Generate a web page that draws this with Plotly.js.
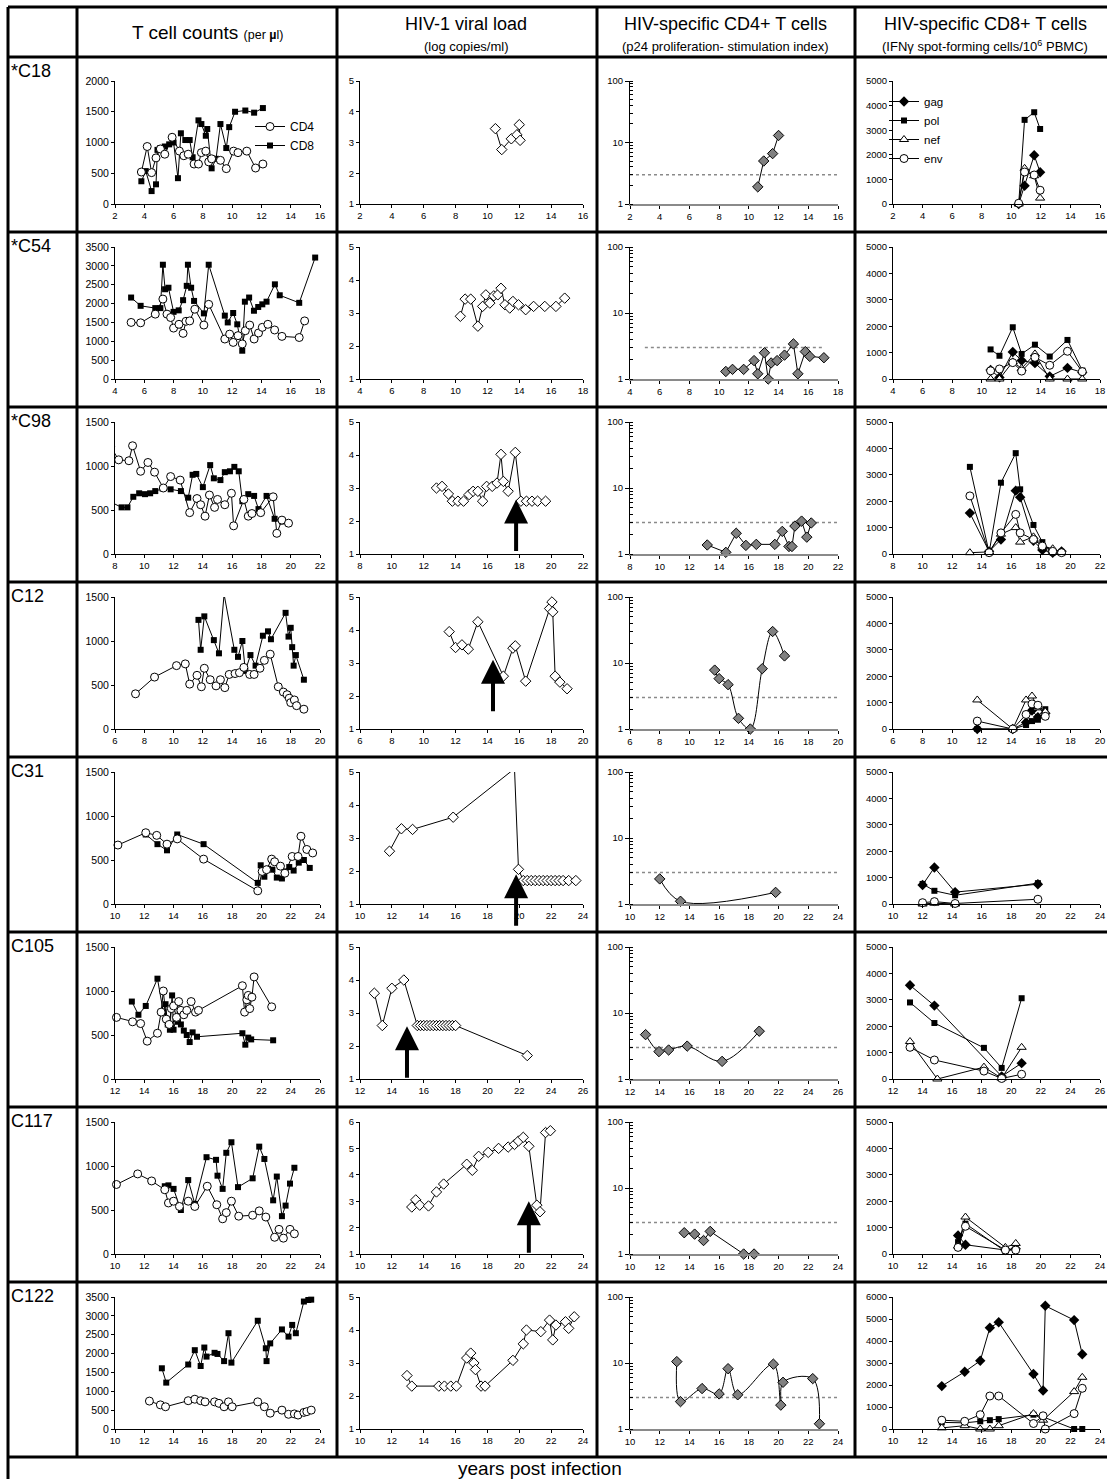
<!DOCTYPE html>
<html><head><meta charset="utf-8">
<script src="https://cdn.plot.ly/plotly-3.0.1.min.js"></script>
<style>html,body{margin:0;padding:0;background:#fff;}#chart{width:1107px;height:1479px;}</style>
</head><body><div id="chart"></div>
<script>
// ---------------- DATA ----------------
const patientIds = ['*C18','*C54','*C98','C12','C31','C105','C117','C122'];
const columnTitles = ['T cell counts','HIV-1 viral load','HIV-specific CD4+ T cells','HIV-specific CD8+ T cells'];
const columnSubtitles = ['(per µl)','(log copies/ml)','(p24 proliferation- stimulation index)','(IFNγ spot-forming cells/10<sup>6</sup> PBMC)'];
const footerText = 'years post infection';

const xRanges = [[2,16],[4,18],[8,22],[6,20],[10,24],[12,26],[10,24],[10,24]];
const tcellMax = [2000,3500,1500,1500,1500,1500,1500,3500];
const viralMax = [5,5,5,5,5,5,6,5];
const ifnMax = [5000,5000,5000,5000,5000,5000,5000,6000];
const siThreshold = 3;
const siCutStart = [2,5,8,6,10,12,10,10];
const siCutEnd = [16,17.1,22,20,24,26,24,24];

// C18
const C18_cd4_t = [3.8,4.2,4.5,4.8,5.1,5.4,5.9,6.4,6.7,7.0,7.4,7.7,7.9,8.2,8.4,8.6,9.2,9.6,10.1,10.4,11.0,11.6,12.1];
const C18_cd4 = [520,935,510,750,895,810,1085,860,785,810,650,650,835,860,685,735,710,575,860,835,860,585,650];
const C18_cd8_t = [3.8,4.1,4.5,4.8,4.9,5.1,5.4,5.7,6.0,6.3,6.5,6.8,7.1,7.3,7.7,7.9,8.2,8.3,8.5,8.6,8.9,9.2,9.6,9.8,10.2,10.9,11.5,12.1];
const C18_cd8 = [370,535,210,320,880,910,935,970,1000,420,1150,1040,1040,760,1360,1300,1110,1220,735,580,735,1300,910,1250,1500,1520,1485,1560];
const C18_vl_t = [10.5,10.9,11.5,11.85,12.0,12.05];
const C18_vl = [3.45,2.77,3.12,3.25,3.58,3.07];
const C18_si_t = [10.6,11.0,11.6,12.0];
const C18_si = [1.9,5.0,6.6,13];
const C18_ifn_t = [10.5,10.9,11.55,11.95];
const C18_gag = [0,740,1980,1290];
const C18_pol = [0,3420,3730,3050];
const C18_nef = [0,1450,1150,240];
const C18_env = [30,1300,1180,560];

// C54
const C54_cd4_t = [5.1,5.75,6.75,7.27,7.55,7.8,8.0,8.37,8.65,8.85,9.1,9.45,10.07,10.4,11.5,11.83,12.07,12.4,12.69,12.9,13.2,13.5,13.8,14.06,14.44,14.9,15.4,16.58,16.95];
const C54_cd4 = [1500,1490,1720,2120,1720,1630,1350,1450,1210,1530,1540,1850,1430,1980,1060,1190,970,1150,930,1280,1430,1060,1220,1370,1450,1300,1130,1100,1540];
const C54_cd8_t = [5.1,5.75,6.75,7.1,7.27,7.42,7.65,8.0,8.35,8.65,8.9,8.98,9.2,9.4,10.07,10.4,11.5,11.7,12.07,12.35,12.69,12.87,13.16,13.49,13.78,14.06,14.35,14.92,15.25,16.58,17.67];
const C54_cd8 = [2160,1940,1880,1880,3030,2380,2420,1780,1820,2090,2470,3030,2420,2070,1740,3030,1680,1500,1750,1450,750,2050,2160,1810,1910,1980,2050,2510,2220,2020,3220];
const C54_vl_t = [10.3,10.6,10.95,11.4,11.7,11.9,12.15,12.4,12.65,12.85,13.1,13.4,13.6,13.95,14.4,14.9,15.6,16.3,16.85];
const C54_vl = [2.9,3.42,3.42,2.6,3.2,3.55,3.3,3.52,3.55,3.75,3.25,3.15,3.35,3.25,3.1,3.2,3.2,3.2,3.45];
const C54_si_t = [10.45,10.9,11.65,12.35,12.6,13.05,13.3,13.5,13.9,14.4,15.0,15.3,15.8,16.1,17.05];
const C54_si = [1.3,1.4,1.4,1.9,1.2,2.5,1.0,1.75,1.9,2.3,3.4,1.2,2.6,2.2,2.1];
const C54_ifn_t = [10.6,11.2,12.1,12.7,13.6,14.6,15.8,16.8];
const C54_gag = [340,60,1020,700,600,100,420,250];
const C54_pol = [1120,880,1960,950,1300,850,1480,320];
const C54_nef = [0,0,650,400,950,0,0,0];
const C54_env = [310,380,620,300,820,520,1050,280];

// C98
const C98_cd4_t = [7.7,8.25,8.95,9.2,9.75,10.25,10.7,11.3,11.8,12.45,13.1,13.6,13.85,14.15,14.45,14.8,15.0,15.5,15.95,16.1,16.8,17.1,17.35,17.95,18.8,19.05,19.4,19.85];
const C98_cd4 = [1220,1070,1060,1230,940,1040,930,750,880,840,470,630,560,430,670,530,620,560,690,320,620,430,460,470,650,235,385,350];
const C98_cd8_t = [7.6,8.45,8.85,9.25,9.65,10.05,10.4,10.75,11.25,11.8,12.5,13.0,13.3,13.55,14.0,14.5,14.75,15.2,15.5,15.85,16.15,16.45,16.7,17.1,17.5,17.8,18.35,18.9,19.4,19.85];
const C98_cd8 = [600,530,530,650,690,680,690,715,745,735,715,640,900,910,760,1010,860,840,930,940,990,940,600,680,660,510,660,400,370,350];
const C98_vl_t = [12.8,13.15,13.55,13.8,14.15,14.5,14.85,15.1,15.4,15.7,15.95,16.3,16.6,16.85,17.0,17.3,17.75,18.1,18.45,18.8,19.15,19.65];
const C98_vl = [3.0,3.05,2.82,2.6,2.6,2.6,2.8,2.9,2.9,2.6,3.05,3.05,3.15,4.02,3.2,2.9,4.08,2.6,2.6,2.6,2.6,2.6];
const C98_si_t = [13.2,14.45,15.15,15.8,16.5,17.75,18.25,18.7,18.9,19.1,19.55,19.9,20.2];
const C98_si = [1.37,1.06,2.06,1.35,1.4,1.4,2.2,1.3,1.3,2.65,3.15,1.8,2.95];
const C98_ifn_t = [13.2,14.5,15.3,16.3,16.6,17.5,18.1,18.8,19.4];
const C98_gag = [1550,100,550,2400,2150,500,150,50,100];
const C98_pol = [3300,50,2700,3820,2450,1100,450,50,80];
const C98_nef = [50,80,750,1000,450,650,300,200,50];
const C98_env = [2200,50,800,1500,800,550,300,100,50];

// C12
const C12_cd4_t = [7.4,8.7,10.2,10.8,11.1,11.6,11.9,12.1,12.5,12.9,13.2,13.5,13.8,14.2,14.5,14.8,15.2,15.5,15.9,16.2,16.6,17.15,17.5,17.75,17.9,18.0,18.25,18.4,18.9];
const C12_cd4 = [400,590,720,740,510,610,480,690,560,490,560,470,620,630,640,700,620,620,690,780,850,480,420,390,350,300,330,265,225];
const C12_cd8_t = [11.7,11.85,12.1,12.75,13.1,13.45,14.15,14.4,14.7,14.9,15.25,15.6,16.1,16.45,16.65,17.65,17.85,18.0,18.1,18.2,18.35,18.9];
const C12_cd8 = [1240,900,1280,1010,860,1530,900,820,1000,660,840,720,1060,1110,1020,1320,1050,1150,930,720,840,560];
const C12_vl_t = [11.6,12.0,12.4,12.8,13.4,15.0,15.6,15.75,16.4,17.9,18.05,18.1,18.25,18.55,19.0];
const C12_vl = [3.95,3.47,3.55,3.42,4.25,2.6,3.45,3.52,2.45,4.65,4.85,4.55,2.6,2.42,2.22];
const C12_si_t = [11.7,12.0,12.6,13.3,14.1,14.9,15.6,16.4];
const C12_si = [7.8,5.8,4.7,1.45,1.0,8.2,30,12.8];
const C12_ifn_t = [11.7,14.1,15.0,15.4,15.8,16.3];
const C12_gag = [0,0,250,700,450,600];
const C12_pol = [0,0,150,300,350,750];
const C12_nef = [1100,0,1100,1250,800,650];
const C12_env = [300,0,550,950,900,480];

// C31
const C31_cd4_t = [10.2,12.1,12.85,13.55,14.25,16.05,19.75,20.05,20.35,20.7,20.9,21.3,21.6,22.1,22.5,22.7,23.1,23.5];
const C31_cd4 = [670,810,780,680,740,510,150,370,390,510,480,430,350,540,540,770,620,580];
const C31_cd8_t = [12.1,12.9,13.55,14.25,16.05,19.75,19.95,20.2,20.45,20.75,21.05,21.4,21.65,21.9,22.2,22.55,22.9,23.3];
const C31_cd8 = [790,680,610,790,680,240,440,310,400,390,300,290,370,420,380,470,500,410];
const C31_vl_t = [11.85,12.6,13.3,15.85,19.7,19.95,20.25,20.5,20.75,21.0,21.25,21.5,21.75,22.0,22.25,22.5,22.75,23.1,23.55];
const C31_vl = [2.6,3.28,3.26,3.63,5.1,2.05,1.71,1.71,1.71,1.71,1.71,1.71,1.71,1.71,1.71,1.71,1.71,1.71,1.71];
const C31_si_t = [12.0,13.4,19.8];
const C31_si = [2.4,1.1,1.5];
const C31_ifn_t = [12.0,12.8,14.2,19.8];
const C31_gag = [720,1380,450,750];
const C31_pol = [760,500,330,790];
const C31_nef_t = [12.0,12.8,14.2];
const C31_nef = [0,30,0];
const C31_env = [50,90,20,180];

// C105
const C105_cd4_t = [12.1,13.2,13.75,14.2,14.9,15.15,15.3,15.5,15.7,15.85,16.0,16.2,16.35,16.5,16.7,16.9,17.2,17.5,17.7,20.7,20.85,21.0,21.1,21.2,21.35,21.5,22.7];
const C105_cd4 = [700,650,630,430,520,760,1000,680,620,800,830,700,880,780,730,780,880,760,780,1060,760,900,950,800,930,1160,820];
const C105_cd8_t = [13.15,13.6,14.1,14.9,15.3,15.45,15.6,15.75,15.9,16.0,16.15,16.3,16.5,16.7,16.9,17.1,17.3,17.6,20.7,20.9,21.1,21.3,22.8];
const C105_cd8 = [880,730,830,1140,760,850,620,560,950,560,680,650,620,550,500,420,530,480,520,390,470,450,440];
const C105_vl_t = [12.9,13.4,14.0,14.75,15.6,15.8,16.0,16.2,16.4,16.6,16.8,17.0,17.2,17.4,17.6,17.8,18.0,22.5];
const C105_vl = [3.6,2.62,3.75,4.0,2.62,2.62,2.62,2.62,2.62,2.62,2.62,2.62,2.62,2.62,2.62,2.62,2.62,1.71];
const C105_si_t = [13.05,13.95,14.6,15.85,18.2,20.7];
const C105_si = [4.7,2.6,2.75,3.15,1.85,5.3];
const C105_gag_t = [13.15,14.8,19.35,20.7];
const C105_gag = [3550,2780,100,600];
const C105_pol_t = [13.15,14.8,18.15,19.35,20.7];
const C105_pol = [2900,2120,1180,420,3060];
const C105_nef_t = [13.15,15.0,18.15,19.35,20.7];
const C105_nef = [1420,0,450,30,1200];
const C105_env_t = [13.15,14.8,18.15,19.35,20.7];
const C105_env = [1200,720,300,20,180];

// C117
const C117_cd4_t = [10.1,11.55,12.5,13.4,13.65,14.0,14.4,15.0,15.45,16.3,16.95,17.35,17.6,17.95,18.45,19.4,19.85,20.3,20.9,21.2,21.5,21.95,22.25];
const C117_cd4 = [790,910,830,730,580,600,540,600,540,770,560,400,470,600,430,440,490,420,190,280,180,280,230];
const C117_cd8_t = [13.4,13.65,14.0,14.5,15.0,15.45,16.25,16.9,17.0,17.35,17.6,17.95,18.4,19.4,19.85,20.2,20.8,21.05,21.4,21.65,21.95,22.25];
const C117_cd8 = [770,780,740,500,840,570,1100,1070,890,740,1150,1270,760,860,1220,1080,610,880,430,550,800,980];
const C117_vl_t = [13.25,13.5,13.75,14.3,14.8,15.25,16.7,17.05,17.45,18.05,18.7,19.3,19.7,19.95,20.25,20.6,21.1,21.3,21.65,21.95];
const C117_vl = [2.78,3.05,2.85,2.82,3.35,3.65,4.4,4.17,4.7,4.85,5.0,5.05,5.15,5.28,5.42,5.08,2.85,2.6,5.6,5.67];
const C117_si_t = [13.65,14.35,14.95,15.4,17.65,18.35];
const C117_si = [2.1,2.0,1.6,2.2,1.0,1.0];
const C117_ifn_t = [14.4,14.9,17.6,18.3];
const C117_gag = [700,350,150,200];
const C117_pol = [450,1150,100,250];
const C117_nef = [300,1400,250,400];
const C117_env = [250,1050,150,150];

// C122
const C122_cd4_t = [12.35,13.1,13.45,15.0,15.45,15.85,16.15,16.8,17.1,17.45,17.75,18.0,19.75,20.2,20.6,21.4,21.85,22.25,22.5,22.9,23.1,23.4];
const C122_cd4 = [740,640,590,750,790,750,720,720,680,590,720,590,720,590,420,500,390,400,370,440,460,500];
const C122_cd8_t = [13.2,13.5,15.0,15.45,15.85,16.1,16.25,16.8,17.0,17.45,17.75,17.95,19.75,20.3,20.35,20.6,21.4,21.85,22.1,22.35,22.9,23.2,23.4];
const C122_cd8 = [1610,1230,1710,2090,1670,2160,1920,2020,1990,1800,2540,1760,2870,2140,1800,2270,2640,2450,2760,2540,3380,3420,3430];
const C122_vl_t = [12.95,13.25,14.95,15.3,15.7,16.05,16.7,16.95,17.15,17.25,17.6,17.85,19.6,20.25,20.45,21.35,21.9,22.1,22.3,22.9,23.1,23.45];
const C122_vl = [2.62,2.3,2.3,2.3,2.3,2.3,3.15,3.3,3.0,2.8,2.3,2.3,3.08,3.58,4.0,3.95,4.3,3.7,4.15,4.25,4.05,4.4];
const C122_si_t = [13.15,13.4,14.85,16.0,16.6,17.25,19.65,20.15,20.3,22.3,22.75];
const C122_si = [10.5,2.6,4.1,3.4,8.2,3.3,9.6,2.3,5.1,5.8,1.2];
const C122_gag_t = [13.3,14.85,15.9,16.55,17.15,19.5,20.15,20.3,22.25,22.8];
const C122_gag = [1950,2600,3100,4600,4850,2500,1750,5600,4950,3400];
const C122_pol_t = [13.3,14.85,15.9,16.55,17.15,19.5,20.15,22.25,22.8];
const C122_pol = [300,280,350,400,450,650,550,0,0];
const C122_nef_t = [13.3,14.85,15.9,16.55,17.15,19.5,20.15,22.25,22.8];
const C122_nef = [50,150,0,0,150,700,400,1700,2350];
const C122_env_t = [13.3,14.85,15.9,16.55,17.15,19.5,20.15,20.3,22.25,22.8];
const C122_env = [400,350,650,1500,1500,250,600,0,700,1850];

// treatment arrows (viral load panels)
const arrowRows = [2,3,4,5,6];
const arrowYears = [17.8,14.35,19.8,14.95,20.6];
const arrowTipLoad = [2.65,3.1,1.9,2.6,3.0];

// ---------------- BUILD ----------------
const rows = [
  {cd4t:C18_cd4_t,cd4:C18_cd4,cd8t:C18_cd8_t,cd8:C18_cd8,vlt:C18_vl_t,vl:C18_vl,sit:C18_si_t,si:C18_si,
   gagt:C18_ifn_t,gag:C18_gag,polt:C18_ifn_t,pol:C18_pol,neft:C18_ifn_t,nef:C18_nef,envt:C18_ifn_t,env:C18_env},
  {cd4t:C54_cd4_t,cd4:C54_cd4,cd8t:C54_cd8_t,cd8:C54_cd8,vlt:C54_vl_t,vl:C54_vl,sit:C54_si_t,si:C54_si,
   gagt:C54_ifn_t,gag:C54_gag,polt:C54_ifn_t,pol:C54_pol,neft:C54_ifn_t,nef:C54_nef,envt:C54_ifn_t,env:C54_env},
  {cd4t:C98_cd4_t,cd4:C98_cd4,cd8t:C98_cd8_t,cd8:C98_cd8,vlt:C98_vl_t,vl:C98_vl,sit:C98_si_t,si:C98_si,
   gagt:C98_ifn_t,gag:C98_gag,polt:C98_ifn_t,pol:C98_pol,neft:C98_ifn_t,nef:C98_nef,envt:C98_ifn_t,env:C98_env},
  {cd4t:C12_cd4_t,cd4:C12_cd4,cd8t:C12_cd8_t,cd8:C12_cd8,vlt:C12_vl_t,vl:C12_vl,sit:C12_si_t,si:C12_si,
   gagt:C12_ifn_t,gag:C12_gag,polt:C12_ifn_t,pol:C12_pol,neft:C12_ifn_t,nef:C12_nef,envt:C12_ifn_t,env:C12_env},
  {cd4t:C31_cd4_t,cd4:C31_cd4,cd8t:C31_cd8_t,cd8:C31_cd8,vlt:C31_vl_t,vl:C31_vl,sit:C31_si_t,si:C31_si,
   gagt:C31_ifn_t,gag:C31_gag,polt:C31_ifn_t,pol:C31_pol,neft:C31_nef_t,nef:C31_nef,envt:C31_ifn_t,env:C31_env},
  {cd4t:C105_cd4_t,cd4:C105_cd4,cd8t:C105_cd8_t,cd8:C105_cd8,vlt:C105_vl_t,vl:C105_vl,sit:C105_si_t,si:C105_si,
   gagt:C105_gag_t,gag:C105_gag,polt:C105_pol_t,pol:C105_pol,neft:C105_nef_t,nef:C105_nef,envt:C105_env_t,env:C105_env},
  {cd4t:C117_cd4_t,cd4:C117_cd4,cd8t:C117_cd8_t,cd8:C117_cd8,vlt:C117_vl_t,vl:C117_vl,sit:C117_si_t,si:C117_si,
   gagt:C117_ifn_t,gag:C117_gag,polt:C117_ifn_t,pol:C117_pol,neft:C117_ifn_t,nef:C117_nef,envt:C117_ifn_t,env:C117_env},
  {cd4t:C122_cd4_t,cd4:C122_cd4,cd8t:C122_cd8_t,cd8:C122_cd8,vlt:C122_vl_t,vl:C122_vl,sit:C122_si_t,si:C122_si,
   gagt:C122_gag_t,gag:C122_gag,polt:C122_pol_t,pol:C122_pol,neft:C122_nef_t,nef:C122_nef,envt:C122_env_t,env:C122_env}
];
const smoothSI = [false,false,false,true,true,true,false,true];

const FONT = '"Liberation Sans", Arial, Helvetica, sans-serif';
const W = 1107, H = 1479;
const colPx = [[115,320],[360,583],[630,838],[893,1100]];
const rowTop = r => 57 + 175*r;
const yDom = r => { const T = rowTop(r); const top = T + (r===0?24:15); const bot = T + 147; return [1-bot/H, 1-top/H]; };
const px = v => v/W, py = v => 1 - v/H;

const LINE = {color:'#000', width:1};
const mk = {
  cd4: {symbol:'circle', size:8, color:'#fff', line:{color:'#000', width:1}},
  cd8: {symbol:'square', size:6, color:'#000', line:{color:'#000', width:0}},
  vl:  {symbol:'diamond', size:8, color:'#fff', line:{color:'#000', width:1}},
  si:  {symbol:'diamond', size:8, color:'#808080', line:{color:'#000', width:1}},
  gag: {symbol:'diamond', size:8, color:'#000', line:{color:'#000', width:0}},
  pol: {symbol:'square', size:6, color:'#000', line:{color:'#000', width:0}},
  nef: {symbol:'triangle-up', size:8, color:'#fff', line:{color:'#000', width:1}},
  env: {symbol:'circle', size:8, color:'#fff', line:{color:'#000', width:1}}
};

const traces = [];
const layout = {
  width: W, height: H, margin:{l:0,r:0,t:0,b:0},
  paper_bgcolor:'#fff', plot_bgcolor:'rgba(0,0,0,0)',
  font:{family:FONT, size:9, color:'#000'},
  showlegend:true,
  legend:{x:px(250), y:py(112), xanchor:'left', yanchor:'top', bgcolor:'rgba(0,0,0,0)', borderwidth:0,
          font:{family:FONT, size:12, color:'#000'}, tracegroupgap:0, itemwidth:30},
  legend2:{x:px(884), y:py(87), xanchor:'left', yanchor:'top', bgcolor:'rgba(0,0,0,0)', borderwidth:0,
          font:{family:FONT, size:11.5, color:'#000'}, tracegroupgap:0, itemwidth:30},
  shapes:[], annotations:[]
};

function axName(k, a){ return a + 'axis' + (k===1?'':k); }
function ref(k, a){ return a + (k===1?'':k); }

for (let r=0; r<8; r++){
  const d = rows[r];
  for (let c=0; c<4; c++){
    const k = r*4 + c + 1;
    const xa = {
      domain:[px(colPx[c][0]), px(colPx[c][1])], range:xRanges[r], anchor:ref(k,'y'),
      dtick:2, tick0:0, ticks:'outside', ticklen:3, tickwidth:1, tickcolor:'#000',
      showline:true, linecolor:(c===2?'#8a8a8a':'#000'), linewidth:(c===2?2:1),
      showgrid:false, zeroline:false, tickfont:{family:FONT, size:9.5, color:'#000'}, fixedrange:true
    };
    const ya = {
      domain:yDom(r), anchor:ref(k,'x'), ticks:'outside', ticklen:3, tickwidth:1, tickcolor:'#000',
      showline:true, linecolor:'#000', linewidth:1, showgrid:false, zeroline:false,
      tickfont:{family:FONT, size:(c===0?10.5:9.5), color:'#000'}, fixedrange:true
    };
    if (c===0){ ya.range=[0,tcellMax[r]]; ya.dtick=500; }
    if (c===1){ ya.range=[1,viralMax[r]]; ya.dtick=1; }
    if (c===2){ ya.type='log'; ya.range=[0,2]; ya.dtick=1; ya.ticklen=4;
                ya.minor={ticks:'inside', ticklen:3, tickcolor:'#000', tickwidth:1, dtick:'D1', showgrid:false}; }
    if (c===3){ ya.range=[0,ifnMax[r]]; ya.dtick=1000; }
    layout[axName(k,'x')] = xa;
    layout[axName(k,'y')] = ya;

    const base = {type:'scatter', mode:'lines+markers', xaxis:ref(k,'x'), yaxis:ref(k,'y'), line:LINE,
                  cliponaxis:(r===2 && c===0), showlegend:false, hoverinfo:'skip'};
    if (c===0){
      traces.push(Object.assign({}, base, {x:d.cd8t, y:d.cd8, marker:mk.cd8, name:'CD8',
        showlegend:r===0, legend:'legend', legendrank:2}));
      traces.push(Object.assign({}, base, {x:d.cd4t, y:d.cd4, marker:mk.cd4, name:'CD4',
        showlegend:r===0, legend:'legend', legendrank:1}));
    } else if (c===1){
      traces.push(Object.assign({}, base, {x:d.vlt, y:d.vl, marker:mk.vl, name:'viral load'}));
    } else if (c===2){
      traces.push(Object.assign({}, base, {mode:'lines', x:[siCutStart[r], siCutEnd[r]], y:[siThreshold, siThreshold],
        line:{color:'#8a8a8a', width:1.5, dash:'dot'}, name:'cutoff'}));
      traces.push(Object.assign({}, base, {x:d.sit, y:d.si, marker:mk.si, name:'SI',
        line:{color:'#000', width:1, shape:(smoothSI[r]?'spline':'linear'), smoothing:1}}));
    } else {
      const sers = [['gag',d.gagt,d.gag],['pol',d.polt,d.pol],['nef',d.neft,d.nef],['env',d.envt,d.env]];
      sers.forEach(([nm,xt,yv],i) => {
        traces.push(Object.assign({}, base, {x:xt, y:yv, marker:mk[nm], name:nm,
          showlegend:r===0, legend:'legend2', legendrank:i+1}));
      });
    }
  }
  // row label
  layout.annotations.push({xref:'paper', yref:'paper', x:px(9), y:py(rowTop(r)+14), xanchor:'left', yanchor:'middle',
    text:patientIds[r], showarrow:false, font:{family:FONT, size:18, color:'#000'}});
}

// arrows
arrowRows.forEach((r,i) => {
  const k = r*4 + 2;
  layout.annotations.push({xref:ref(k,'x'), yref:ref(k,'y'), x:arrowYears[i], y:arrowTipLoad[i],
    ax:0, ay:53, axref:'pixel', ayref:'pixel', text:'', showarrow:true, arrowhead:2, arrowsize:1.2,
    arrowwidth:4, arrowcolor:'#000', standoff:0});
});

// headers
const colCenters = [207, 466, 725, 985];
layout.annotations.push({xref:'paper', yref:'paper', x:px(colCenters[0]), y:py(32), xanchor:'center', yanchor:'middle',
  text:columnTitles[0] + ' <span style="font-size:12.5px">(per <b>µ</b>l)</span>', showarrow:false,
  font:{family:FONT, size:19, color:'#000'}});
for (let c=1; c<4; c++){
  layout.annotations.push({xref:'paper', yref:'paper', x:px(colCenters[c]), y:py(24), xanchor:'center', yanchor:'middle',
    text:columnTitles[c], showarrow:false, font:{family:FONT, size:18, color:'#000'}});
  layout.annotations.push({xref:'paper', yref:'paper', x:px(colCenters[c]), y:py(46), xanchor:'center', yanchor:'middle',
    text:columnSubtitles[c], showarrow:false, font:{family:FONT, size:13, color:'#000'}});
}
layout.annotations.push({xref:'paper', yref:'paper', x:px(540), y:py(1468), xanchor:'center', yanchor:'middle',
  text:footerText, showarrow:false, font:{family:FONT, size:19, color:'#000'}});

// table rules
const LW = 3;
const hLines = [7, 57];
for (let r=0; r<8; r++) hLines.push(rowTop(r)+175);
hLines.forEach(y => layout.shapes.push({type:'line', xref:'paper', yref:'paper', x0:px(8), x1:px(1107), y0:py(y), y1:py(y),
  line:{color:'#000', width:LW}}));
layout.shapes.push({type:'line', xref:'paper', yref:'paper', x0:px(8), x1:px(8), y0:py(7), y1:py(1479), line:{color:'#000', width:LW}});
[77, 337, 597, 855].forEach(x => layout.shapes.push({type:'line', xref:'paper', yref:'paper', x0:px(x), x1:px(x),
  y0:py(7), y1:py(rowTop(7)+175), line:{color:'#000', width:LW}}));

Plotly.newPlot('chart', traces, layout, {staticPlot:true, displayModeBar:false});
</script></body></html>
